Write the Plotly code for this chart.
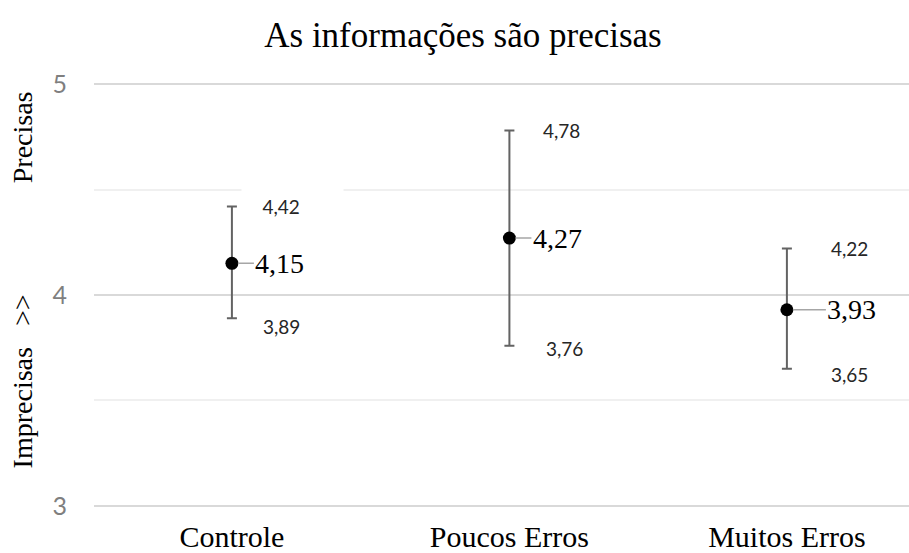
import plotly.graph_objects as go

categories = ["Controle", "Poucos Erros", "Muitos Erros"]
means = [4.15, 4.27, 3.93]
upper = [4.42, 4.78, 4.22]
lower = [3.89, 3.76, 3.65]
y_ticks = [3, 4, 5]

def fmt(v):
    return f"{v:.2f}".replace(".", ",")

xs = list(range(len(categories)))

fig = go.Figure()
fig.add_trace(go.Scatter(
    x=xs, y=means, mode="markers",
    marker=dict(color="black", size=13),
    error_y=dict(type="data", symmetric=False,
                 array=[u - m for u, m in zip(upper, means)],
                 arrayminus=[m - l for m, l in zip(means, lower)],
                 color="#636363", thickness=2, width=5),
    showlegend=False, hoverinfo="skip",
))

ann = []
mean_ax = [48, 48, 65]
up_dx = [50, 52, 63]
lo_dx = [50, 55, 63]
lo_dy = [-8, -3, -6]
for i in xs:
    ann.append(dict(x=i, y=means[i], xref="x", yref="y", text=fmt(means[i]),
                    showarrow=True, ax=mean_ax[i], ay=0, arrowhead=0,
                    arrowwidth=1.5, arrowcolor="#a6a6a6", standoff=6,
                    font=dict(family="Liberation Serif", size=28, color="black")))
    up = dict(x=i, y=upper[i], xref="x", yref="y", text=fmt(upper[i]),
              showarrow=False, xshift=up_dx[i],
              font=dict(family="Lato", size=19, color="#262626"))
    if i == 0:
        up.update(bgcolor="white", width=99, height=40, align="left",
                  text="&nbsp;" * 4 + fmt(upper[i]), xshift=up_dx[i] + 11)
    ann.append(up)
    ann.append(dict(x=i, y=lower[i], xref="x", yref="y", text=fmt(lower[i]),
                    showarrow=False, xshift=lo_dx[i], yshift=lo_dy[i],
                    font=dict(family="Lato", size=19, color="#262626")))

ann.append(dict(x=0, y=(506 - 138) / 422, xref="paper", yref="paper", xshift=-72,
                xanchor="center", yanchor="middle",
                text="Precisas", textangle=-90, showarrow=False,
                font=dict(family="Liberation Serif", size=28, color="black")))
ann.append(dict(x=0, y=(506 - 381) / 422, xref="paper", yref="paper", xshift=-72,
                xanchor="center", yanchor="middle",
                text="Imprecisas&nbsp;&nbsp;&nbsp;&gt;&gt;", textangle=-90, showarrow=False,
                font=dict(family="Liberation Serif", size=28, color="black")))

fig.update_layout(
    width=909, height=553,
    margin=dict(l=94, r=0, t=83, b=46, autoexpand=False),
    paper_bgcolor="white", plot_bgcolor="white",
    title=dict(text="As informações são precisas", x=463 / 909, xanchor="center",
               xref="container", y=1 - 35 / 553, yanchor="middle",
               font=dict(family="Liberation Serif", size=35, color="black")),
    xaxis=dict(tickvals=xs, ticktext=categories, range=[-0.497, 2.44],
               showgrid=False, zeroline=False, showline=False, ticks="",
               ticklabelstandoff=9, automargin=False,
               tickfont=dict(family="Liberation Serif", size=30, color="black")),
    yaxis=dict(range=[2.995, 5.005], tickvals=y_ticks, ticktext=[str(t) for t in y_ticks],
               showgrid=True, gridcolor="#d9d9d9", gridwidth=2,
               minor=dict(dtick=0.5, showgrid=True, gridcolor="#f0f0f0", gridwidth=2),
               zeroline=False, showline=False, ticks="", ticklabelstandoff=26,
               automargin=False,
               tickfont=dict(family="Lato", size=25, color="#7f7f7f")),
    annotations=ann,
)
fig.write_html("out.html", config={"displayModeBar": False},
               post_script="document.body.style.margin='0';")
